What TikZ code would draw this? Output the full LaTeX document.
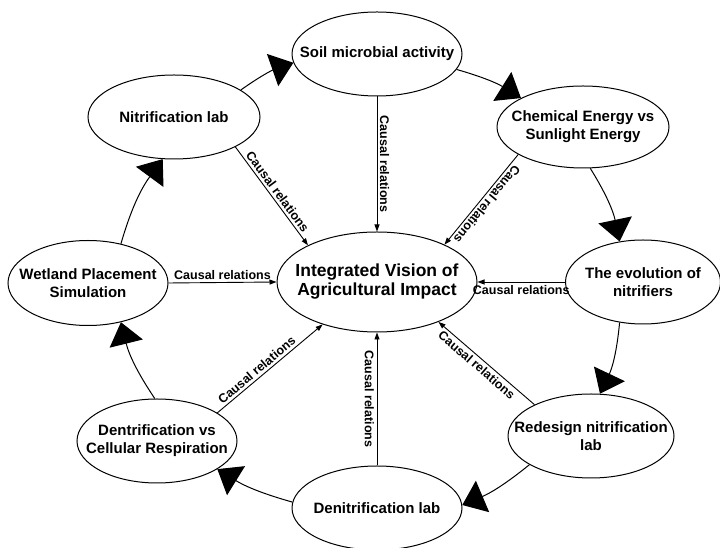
\documentclass[tikz,border=0pt]{standalone}
\usepackage{fontspec}
\setmainfont{Liberation Sans}
\usetikzlibrary{shapes.geometric,arrows.meta}

\begin{document}
\begin{tikzpicture}[x=1pt,y=1pt]
  \tikzset{ell/.style={ellipse,draw,line width=1pt,align=center,inner xsep=-25pt,inner ysep=0pt,
             minimum width=170pt,minimum height=84pt,font=\fontsize{15}{18}\selectfont\bfseries},
           loopar/.style={line width=1pt,-{Triangle[length=22pt,width=34pt]}},
           cause/.style={line width=0.9pt,-{Triangle[length=7pt,width=5pt]}},
           lab/.style={font=\fontsize{12.5}{14}\selectfont\bfseries,inner sep=2.5pt}}
  \useasboundingbox (0,0) rectangle (720,548);
  \node[ell,minimum width=200pt,minimum height=100pt,font=\fontsize{17.5}{19}\selectfont\bfseries]
       (iv) at (377,266) {Integrated Vision of\\Agricultural Impact};
  \node[ell] (soil) at (377,494) {Soil microbial activity};
  \node[ell,minimum width=172pt] (nit) at (174,431) {Nitrification lab};
  \node[ell,minimum width=172pt,minimum height=82pt] (chem) at (583,421) {Chemical Energy vs\\Sunlight Energy};
  \node[ell,minimum width=155pt] (evol) at (643,266) {The evolution of\\nitrifiers};
  \node[ell,minimum width=166pt] (red) at (591,112) {Redesign nitrification\\lab};
  \node[ell] (dlab) at (377,40) {Denitrification lab};
  \node[ell,minimum width=160pt] (dcell) at (157,107) {Dentrification vs\\Cellular Respiration};
  \node[ell,minimum width=160pt,minimum height=85pt] (wet) at (88,265) {Wetland Placement\\Simulation};
  \draw[loopar] (nit.22) to[bend left=8] (soil.186);
  \draw[loopar] (soil.-11) to[bend left=8] (chem.155);
  \draw[loopar] (chem.-80) to[bend left=10] (evol.120);
  \draw[loopar] (evol.-120) to[bend left=10] (red.78);
  \draw[loopar] (red.205) to[bend left=8] (dlab.2);
  \draw[loopar] (dlab.176) to[bend left=8] (dcell.-25);
  \draw[loopar] (dcell.93) to[bend left=10] (wet.-50);
  \draw[loopar] (wet.50) to[bend left=10] (nit.-105);
  \draw[cause] (nit.-26) -- node[lab,sloped,above] {Causal relations} (iv.152);
  \draw[cause] (soil.south) -- node[lab,rotate=-90,anchor=south] {Causal relations} (iv.north);
  \draw[cause] (chem.203) -- node[lab,sloped,allow upside down,above] {Causal relations} (iv.29);
  \draw[cause] (evol.west) -- node[lab,below] {Causal relations} (iv.east);
  \draw[cause] (wet.east) -- node[lab,above] {Causal relations} (iv.west);
  \draw[cause] (dcell.25) -- node[lab,sloped,above,pos=0.42] {Causal relations} (iv.218);
  \draw[cause] (dlab.north) -- node[lab,rotate=-90,anchor=north] {Causal relations} (iv.south);
  \draw[cause] (red.151) -- node[lab,sloped,below,pos=0.55] {Causal relations} (iv.-33);
\end{tikzpicture}
\end{document}
